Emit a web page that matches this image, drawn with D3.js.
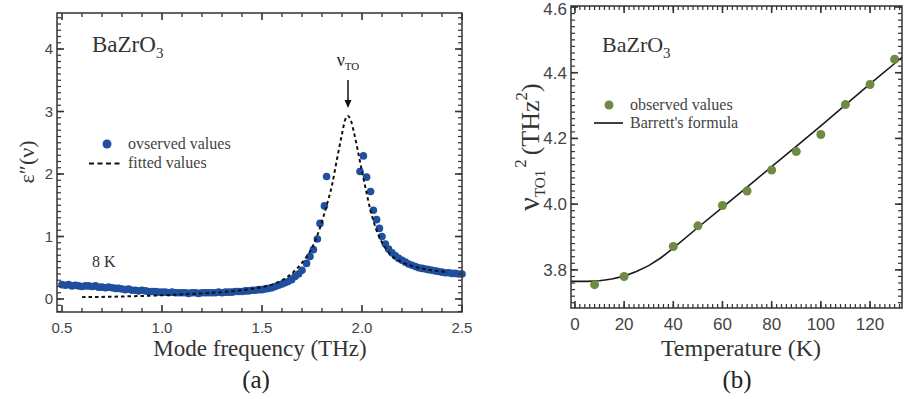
<!DOCTYPE html>
<html>
<head>
<meta charset="utf-8">
<script src="https://cdn.jsdelivr.net/npm/d3@7"></script>
<style>
  body { margin: 0; background: #fff; }
</style>
</head>
<body>
<div id="chart-area"></div>
<script>
// ---- panel (a): dielectric loss spectrum at 8 K ----
var freqObs = [0.500,0.517,0.533,0.550,0.567,0.583,0.600,0.617,0.633,0.650,0.667,0.683,0.700,0.717,0.733,0.750,
    0.767,0.783,0.800,0.817,0.833,0.850,0.867,0.883,0.900,0.917,0.933,0.950,0.967,0.983,1.000,1.017,1.033,1.050,
    1.067,1.083,1.100,1.117,1.133,1.150,1.167,1.183,1.200,1.217,1.233,1.250,1.267,1.283,1.300,1.317,1.333,1.350,
    1.367,1.383,1.400,1.417,1.433,1.450,1.467,1.483,1.500,1.517,1.533,1.550,1.567,1.583,1.600,1.615,1.630,1.648,
    1.665,1.683,1.700,1.723,1.740,1.757,1.777,1.790,1.812,1.823,
    1.990,2.007,2.023,2.043,2.057,2.073,2.087,2.100,2.117,2.133,2.150,2.167,2.183,2.200,2.217,2.233,2.250,2.267,
    2.283,2.300,2.317,2.333,2.350,2.367,2.383,2.400,2.417,2.433,2.450,2.467,2.483,2.500];
var epsObs = [0.23,0.22,0.23,0.21,0.22,0.21,0.20,0.21,0.21,0.20,0.21,0.19,0.19,0.18,0.19,0.18,
    0.17,0.17,0.16,0.15,0.16,0.14,0.14,0.13,0.14,0.13,0.12,0.12,0.12,0.11,0.11,0.11,0.10,0.11,
    0.10,0.10,0.10,0.10,0.09,0.10,0.10,0.09,0.10,0.10,0.10,0.10,0.10,0.11,0.10,0.11,0.11,0.11,
    0.12,0.12,0.12,0.13,0.13,0.14,0.14,0.15,0.15,0.16,0.17,0.18,0.20,0.22,0.24,0.26,0.28,0.31,
    0.36,0.40,0.46,0.57,0.68,0.79,0.96,1.21,1.49,1.96,
    2.04,2.29,1.95,1.72,1.42,1.27,1.13,1.00,0.88,0.80,0.74,0.69,0.65,0.62,0.59,0.56,0.54,0.52,
    0.50,0.49,0.48,0.47,0.46,0.45,0.44,0.43,0.42,0.42,0.41,0.41,0.40,0.40];
var freqFit = [0.60,0.80,1.00,1.20,1.30,1.40,1.50,1.55,1.60,1.65,1.70,1.75,1.79,1.82,1.85,1.875,1.90,1.915,1.93,
    1.945,1.96,1.98,2.00,2.02,2.04,2.06,2.08,2.11,2.14,2.20,2.27,2.35,2.43];
var epsFit = [0.03,0.04,0.06,0.09,0.11,0.14,0.19,0.23,0.30,0.41,0.58,0.82,1.14,1.46,1.82,2.24,2.64,2.86,2.93,
    2.85,2.66,2.36,2.04,1.74,1.45,1.22,1.04,0.85,0.72,0.59,0.51,0.46,0.43];
var freqTicks = [0.5, 1.0, 1.5, 2.0, 2.5];
var freqMinor = [0.6, 0.7, 0.8, 0.9, 1.1, 1.2, 1.3, 1.4, 1.6, 1.7, 1.8, 1.9, 2.1, 2.2, 2.3, 2.4];
var epsTicks = [0, 1, 2, 3, 4];

// ---- panel (b): soft mode frequency squared vs temperature ----
var tempObs = [8, 20, 40, 50, 60, 70, 80, 90, 100, 110, 120, 130];
var nuSqObs = [3.755, 3.780, 3.871, 3.934, 3.996, 4.040, 4.104, 4.160, 4.212, 4.303, 4.364, 4.441];
var tempFit = [-1.6, 5, 10, 15, 20, 25, 30, 35, 40, 50, 60, 70, 80, 90, 100, 110, 120, 130, 133];
var nuSqFit = [3.765, 3.765, 3.767, 3.772, 3.781, 3.795, 3.813, 3.837, 3.866, 3.929, 3.990, 4.052, 4.114,
    4.176, 4.238, 4.302, 4.366, 4.428, 4.447];
var tempTicks = [0, 20, 40, 60, 80, 100, 120];
var nuSqTicks = [3.8, 4.0, 4.2, 4.4, 4.6];

var serif = "Liberation Serif, Times New Roman, serif";
var sans = "Liberation Sans, Arial, sans-serif";
var frameColor = "#333";

var svg = d3.select("#chart-area").append("svg")
    .attr("width", 904)
    .attr("height", 399);

// ================= scales =================
var xA = d3.scaleLinear().domain([0.475, 2.5]).range([57, 462]);
var yA = d3.scaleLinear().domain([-0.208, 4.576]).range([312, 13]);
var xB = d3.scaleLinear().domain([-1.6, 133]).range([571, 902]);
var yB = d3.scaleLinear().domain([3.684, 4.603]).range([308, 6]);

// minor tick positions (small ticks between the labelled ones)
var epsMinor = d3.range(-2, 46).map(function(i) { return i / 10 });
var tempMinor = d3.range(0, 67).map(function(i) { return i * 2 });
var nuSqMinor = d3.range(185, 231).map(function(i) { return i / 50 });

// ================= data marks =================
svg.append("g").selectAll("circle")
    .data(freqObs.map(function(f, i) { return [f, epsObs[i]] }))
    .enter().append("circle")
    .attr("cx", function(d) { return xA(d[0]) })
    .attr("cy", function(d) { return yA(d[1]) })
    .attr("r", 3.8)
    .attr("fill", "#1f4f9f");

svg.append("path")
    .datum(freqFit.map(function(f, i) { return [f, epsFit[i]] }))
    .attr("fill", "none")
    .attr("stroke", "#111")
    .attr("stroke-width", 2)
    .attr("stroke-dasharray", "3.5,3")
    .attr("d", d3.line().curve(d3.curveMonotoneX)
        .x(function(d) { return xA(d[0]) })
        .y(function(d) { return yA(d[1]) }));

svg.append("path")
    .datum(tempFit.map(function(t, i) { return [t, nuSqFit[i]] }))
    .attr("fill", "none")
    .attr("stroke", "#1a1a1a")
    .attr("stroke-width", 1.6)
    .attr("d", d3.line()
        .x(function(d) { return xB(d[0]) })
        .y(function(d) { return yB(d[1]) }));

svg.append("g").selectAll("circle")
    .data(tempObs.map(function(t, i) { return [t, nuSqObs[i]] }))
    .enter().append("circle")
    .attr("cx", function(d) { return xB(d[0]) })
    .attr("cy", function(d) { return yB(d[1]) })
    .attr("r", 4.5)
    .attr("fill", "#6e8a45");

// frame boxes
var frames = [[xA, yA], [xB, yB]];
frames.forEach(function(s) {
    svg.append("rect")
        .attr("x", s[0].range()[0]).attr("y", s[1].range()[1])
        .attr("width", s[0].range()[1] - s[0].range()[0])
        .attr("height", s[1].range()[0] - s[1].range()[1])
        .attr("fill", "none").attr("stroke", frameColor).attr("stroke-width", 1.5);
});

// tick labels
function labelsX(scale, vals, yPos, fmt, size) {
    svg.append("g").selectAll("text").data(vals).enter().append("text")
        .attr("x", function(d) { return scale(d) }).attr("y", yPos)
        .attr("text-anchor", "middle")
        .style("font-family", sans).style("font-size", size + "px").attr("fill", "#444")
        .text(fmt);
}
function labelsY(scale, vals, xPos, fmt, size) {
    svg.append("g").selectAll("text").data(vals).enter().append("text")
        .attr("x", xPos).attr("y", function(d) { return scale(d) })
        .attr("dy", "0.35em").attr("text-anchor", "end")
        .style("font-family", sans).style("font-size", size + "px").attr("fill", "#444")
        .text(fmt);
}
labelsX(xA, freqTicks, 333, d3.format(".1f"), 15);
labelsY(yA, epsTicks, 53, d3.format("d"), 15);
labelsX(xB, tempTicks, 330, d3.format("d"), 17);
labelsY(yB, nuSqTicks.slice(0, 4), 567, d3.format(".1f"), 17);
// top label at the page edge, nudged down a little so it stays whole
svg.append("text").attr("x", 567).attr("y", yB(4.6) + 8).attr("text-anchor", "end")
    .style("font-family", sans).style("font-size", "17px").attr("fill", "#444")
    .text(d3.format(".1f")(nuSqTicks[4]));

// ---- panel (a) annotations ----
var tA = svg.append("text")
    .attr("x", 92).attr("y", 52)
    .style("font-family", serif).style("font-size", "23px").attr("fill", "#333");
tA.append("tspan").text("BaZrO");
tA.append("tspan").attr("dy", 6).style("font-size", "15px").text("3");

var nuLbl = svg.append("text")
    .attr("x", xA(1.93)).attr("y", 66)
    .attr("text-anchor", "middle")
    .style("font-family", serif).style("font-size", "18px").attr("fill", "#222");
nuLbl.append("tspan").text("ν");
nuLbl.append("tspan").attr("dy", 4).style("font-size", "11px").text("TO");
svg.append("line")
    .attr("x1", xA(1.93)).attr("x2", xA(1.93))
    .attr("y1", 80).attr("y2", 101)
    .attr("stroke", "#111").attr("stroke-width", 1.5);
svg.append("path")
    .attr("d", "M" + (xA(1.93) - 3.5) + ",100 L" + (xA(1.93) + 3.5) + ",100 L" + xA(1.93) + ",108 Z")
    .attr("fill", "#111");

svg.append("circle").attr("cx", 107).attr("cy", 144).attr("r", 4.5).attr("fill", "#1f4f9f");
svg.append("text").attr("x", 128).attr("y", 149)
    .style("font-family", serif).style("font-size", "16px").attr("fill", "#444")
    .text("ovserved values");
svg.append("line").attr("x1", 89).attr("x2", 120).attr("y1", 163.5).attr("y2", 163.5)
    .attr("stroke", "#111").attr("stroke-width", 2).attr("stroke-dasharray", "5,3.5");
svg.append("text").attr("x", 128).attr("y", 168)
    .style("font-family", serif).style("font-size", "16px").attr("fill", "#444")
    .text("fitted values");

svg.append("text").attr("x", 92).attr("y", 267)
    .style("font-family", serif).style("font-size", "16px").attr("fill", "#333")
    .text("8 K");

svg.append("text")
    .attr("x", 260).attr("y", 356)
    .attr("text-anchor", "middle")
    .style("font-family", serif).style("font-size", "23px").attr("fill", "#333")
    .text("Mode frequency (THz)");
svg.append("text")
    .attr("transform", "translate(34,162) rotate(-90)")
    .attr("text-anchor", "middle")
    .style("font-family", serif).style("font-size", "22px").attr("fill", "#333")
    .text("ε\u2033(ν)");
svg.append("text")
    .attr("x", 256).attr("y", 388)
    .attr("text-anchor", "middle")
    .style("font-family", serif).style("font-size", "25px").attr("fill", "#222")
    .text("(a)");

// ---- panel (b) annotations ----
var tB = svg.append("text")
    .attr("x", 602).attr("y", 52)
    .style("font-family", serif).style("font-size", "22px").attr("fill", "#333");
tB.append("tspan").text("BaZrO");
tB.append("tspan").attr("dy", 6).style("font-size", "15px").text("3");

svg.append("circle").attr("cx", 609).attr("cy", 105).attr("r", 4.5).attr("fill", "#6e8a45");
svg.append("text").attr("x", 630).attr("y", 110)
    .style("font-family", serif).style("font-size", "16px").attr("fill", "#444")
    .text("observed values");
svg.append("line").attr("x1", 594).attr("x2", 623).attr("y1", 123).attr("y2", 123)
    .attr("stroke", "#111").attr("stroke-width", 1.6);
svg.append("text").attr("x", 630).attr("y", 128)
    .style("font-family", serif).style("font-size", "16px").attr("fill", "#444")
    .text("Barrett's formula");

svg.append("text")
    .attr("x", 741).attr("y", 356)
    .attr("text-anchor", "middle")
    .style("font-family", serif).style("font-size", "24px").attr("fill", "#333")
    .text("Temperature (K)");
svg.append("text")
    .attr("x", 737).attr("y", 388)
    .attr("text-anchor", "middle")
    .style("font-family", serif).style("font-size", "25px").attr("fill", "#222")
    .text("(b)");

var yLblB = svg.append("text")
    .attr("transform", "translate(539,147) rotate(-90)")
    .attr("text-anchor", "middle")
    .style("font-family", serif).style("font-size", "26px").attr("fill", "#333");
yLblB.append("tspan").style("font-size", "30px").text("ν");
yLblB.append("tspan").attr("dy", 6).style("font-size", "15px").text("TO1");
yLblB.append("tspan").attr("dy", -19).attr("dx", 2).style("font-size", "17px").text("2");
yLblB.append("tspan").attr("dy", 13).attr("dx", 4).text("(THz");
yLblB.append("tspan").attr("dy", -12).style("font-size", "17px").text("2");
yLblB.append("tspan").attr("dy", 12).text(")");

// ---- inward tick marks, drawn last as small filled bars ----
var tickLayer = svg.append("g").attr("fill", frameColor);
function ticksX(scale, vals, yBase, len, w) {
    // len > 0 points down, len < 0 points up
    vals.forEach(function(v) {
        tickLayer.append("rect")
            .attr("x", scale(v) - w / 2).attr("width", w)
            .attr("y", len > 0 ? yBase : yBase + len).attr("height", Math.abs(len));
    });
}
function ticksY(scale, vals, xBase, len, w) {
    // len > 0 points right, len < 0 points left
    vals.forEach(function(v) {
        tickLayer.append("rect")
            .attr("y", scale(v) - w / 2).attr("height", w)
            .attr("x", len > 0 ? xBase : xBase + len).attr("width", Math.abs(len));
    });
}
// panel (a)
ticksX(xA, freqMinor, 312, -4, 1.3); ticksX(xA, freqTicks, 312, -7, 1.6);
ticksX(xA, freqMinor, 13, 4, 1.3);   ticksX(xA, freqTicks, 13, 7, 1.6);
ticksY(yA, epsMinor, 57, 4, 1.2);    ticksY(yA, epsTicks, 57, 7, 1.6);
ticksY(yA, epsMinor, 462, -4, 1.2);  ticksY(yA, epsTicks, 462, -7, 1.6);
// panel (b)
ticksX(xB, tempMinor, 308, -4, 1.2); ticksX(xB, tempTicks, 308, -7, 1.6);
ticksX(xB, tempMinor, 6, 4, 1.2);    ticksX(xB, tempTicks, 6, 7, 1.6);
ticksY(yB, nuSqMinor, 571, 4, 1.2);  ticksY(yB, nuSqTicks, 571, 7, 1.6);
ticksY(yB, nuSqMinor, 902, -4, 1.2); ticksY(yB, nuSqTicks, 902, -7, 1.6);
</script>
</body>
</html>
